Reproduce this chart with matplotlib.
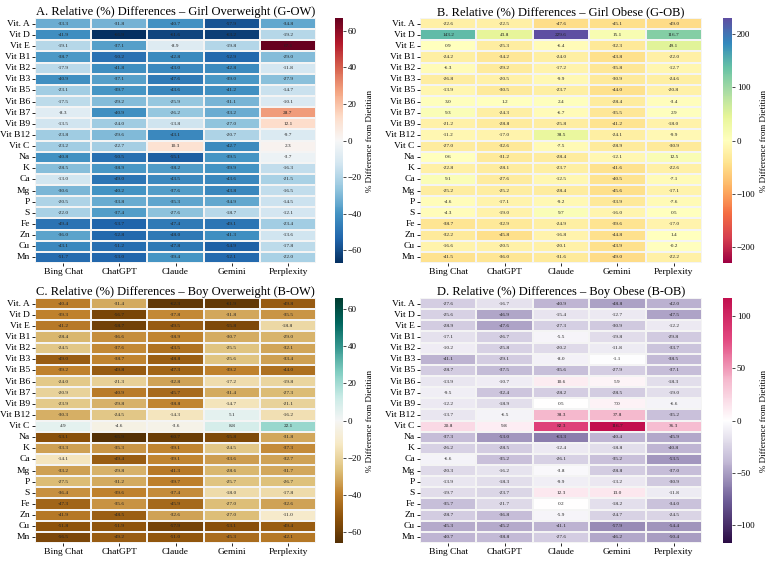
import numpy as np
import matplotlib
matplotlib.use('Agg')
import matplotlib.pyplot as plt
import seaborn as sns
from matplotlib.colors import LinearSegmentedColormap

nutrients = ['Vit. A', 'Vit D', 'Vit E', 'Vit B1', 'Vit B2', 'Vit B3', 'Vit B5', 'Vit B6',
             'Vit B7', 'Vit B9', 'Vit B12', 'Vit C', 'Na', 'K', 'Ca', 'Mg', 'P', 'S',
             'Fe', 'Zn', 'Cu', 'Mn']
models = ['Bing Chat', 'ChatGPT', 'Claude', 'Gemini', 'Perplexity']

# girl overweight
g_ow = [
    [-33.3, -31.8, -40.7, -57.9, -34.8],
    [-41.9, -66.9, -61.6, -63.2, -19.2],
    [-19.1, -37.1, -8.9, -19.8, 67.1],
    [-38.7, -50.2, -42.8, -52.9, -29.0],
    [-17.9, -41.8, -43.0, -42.8, -11.8],
    [-40.9, -37.1, -47.6, -39.0, -27.9],
    [-23.1, -39.7, -43.6, -41.2, -14.7],
    [-17.5, -29.2, -25.9, -31.1, -10.1],
    [-8.3, -40.9, -26.2, -33.2, 28.7],
    [-13.5, -24.0, -13.8, -27.0, 12.1],
    [-23.8, -29.6, -43.1, -20.7, -9.7],
    [-23.2, -22.7, 10.3, -42.7, 2.3],
    [-40.8, -50.5, -55.1, -39.5, -3.7],
    [-28.5, -38.9, -38.2, -39.9, -16.3],
    [-13.0, -49.0, -43.5, -43.6, -21.5],
    [-30.6, -40.2, -37.6, -43.8, -16.5],
    [-20.5, -33.8, -35.3, -34.9, -14.5],
    [-22.0, -37.4, -27.6, -18.7, -12.1],
    [-49.4, -53.7, -47.4, -49.1, -23.4],
    [-36.0, -52.8, -48.0, -41.3, -13.6],
    [-43.1, -51.2, -47.8, -54.9, -17.8],
    [-51.7, -53.0, -39.4, -52.1, -22.0],
]

# girl obese
g_ob = [
    [-22.6, -22.5, -47.6, -45.1, -49.0],
    [143.2, 43.8, 229.6, 15.1, 116.7],
    [0.9, -25.3, -6.4, -32.3, 49.1],
    [-24.2, -34.2, -24.0, -43.8, -22.0],
    [-6.3, -29.2, -17.2, -35.8, -12.7],
    [-26.8, -20.5, -9.9, -30.9, -24.6],
    [-13.9, -30.5, -23.7, -44.0, -20.8],
    [3.0, 1.2, 2.4, -28.4, -3.4],
    [9.3, -24.3, -6.7, -35.5, 2.9],
    [-21.2, -28.8, -25.8, -41.2, -18.0],
    [-11.2, -17.0, 38.5, -24.1, -9.9],
    [-27.0, -32.6, -7.5, -28.9, -30.9],
    [0.6, -31.2, -28.4, -12.1, 12.5],
    [-22.8, -28.1, -23.7, -41.6, -22.6],
    [9.1, -27.6, -12.5, -40.5, -7.1],
    [-25.2, -25.2, -28.4, -45.6, -17.1],
    [-4.6, -17.1, -9.2, -33.9, -7.6],
    [-4.3, -19.0, 9.7, -16.0, 0.5],
    [-38.7, -32.9, -24.9, -39.6, -17.0],
    [-32.2, -45.8, -16.8, -44.8, 1.4],
    [-16.6, -20.5, -20.1, -43.9, -0.2],
    [-41.5, -36.0, -31.6, -49.0, -22.2],
]

# boy overweight
b_ow = [
    [-40.4, -31.4, -62.3, -61.9, -49.8],
    [-39.3, -56.7, -37.8, -31.8, -35.5],
    [-41.2, -58.7, -49.5, -55.8, -18.8],
    [-28.4, -36.6, -38.9, -30.7, -29.0],
    [-24.5, -37.6, -43.5, -25.5, -32.1],
    [-49.0, -38.7, -48.8, -25.6, -33.4],
    [-39.2, -49.8, -47.3, -39.2, -44.0],
    [-24.0, -21.3, -32.8, -17.2, -19.8],
    [-20.9, -40.9, -45.7, -31.4, -27.3],
    [-23.9, -29.8, -38.8, -14.7, -21.1],
    [-30.3, -24.5, -14.3, 5.1, -16.2],
    [4.9, -4.6, -3.6, 8.8, 22.1],
    [-53.1, -65.9, -60.7, -55.8, -31.8],
    [-33.3, -35.3, -39.1, -24.5, -37.3],
    [-14.1, -49.4, -39.1, -33.6, -32.7],
    [-33.2, -29.8, -41.3, -28.6, -31.7],
    [-27.5, -31.2, -39.7, -25.7, -26.7],
    [-36.4, -39.6, -37.4, -18.0, -17.8],
    [-47.3, -35.6, -45.9, -27.0, -32.6],
    [-41.9, -48.5, -32.6, -27.0, -11.0],
    [-51.8, -51.9, -57.9, -53.1, -49.4],
    [-56.5, -49.2, -51.0, -45.3, -42.1],
]

# boy obese
b_ob = [
    [-27.6, -16.7, -40.9, -48.8, -42.0],
    [-25.6, -46.9, -15.4, -12.7, -47.5],
    [-28.9, -47.6, -27.3, -30.9, -12.2],
    [-17.1, -26.7, -5.5, -19.8, -29.8],
    [-10.2, -25.8, -20.2, -11.8, -33.7],
    [-41.1, -29.1, -8.0, -1.1, -38.5],
    [-28.7, -37.5, -35.6, -27.9, -37.1],
    [-13.9, -10.7, 10.6, 5.9, -18.3],
    [-9.5, -32.4, -28.2, -28.5, -19.0],
    [-12.2, -18.9, 0.5, 7.0, -6.6],
    [-13.7, -6.5, 38.3, 37.8, -35.2],
    [20.8, 9.8, 82.3, 116.7, 36.3],
    [-37.3, -53.0, -63.3, -40.4, -45.9],
    [-26.2, -28.5, -12.4, -18.8, -40.8],
    [-6.6, -35.2, -26.1, -35.2, -53.5],
    [-20.3, -16.2, -3.8, -28.8, -37.0],
    [-13.9, -18.3, -9.9, -13.2, -30.9],
    [-19.7, -23.7, 12.3, 13.0, -11.8],
    [-35.7, -21.7, 0.2, -18.2, -34.0],
    [-28.7, -36.8, -5.9, -24.7, -24.5],
    [-45.3, -45.2, -41.1, -57.9, -54.4],
    [-40.7, -38.8, -27.6, -46.2, -50.4],
]

purple_pink = LinearSegmentedColormap.from_list(
    'purple_pink', ['#2b0c45', '#6b5a95', '#c3bad6', '#ffffff', '#f5b8cd', '#e2477f', '#c2104f'])

W, H = 767, 563

def box(x0, y0, x1, y1):
    return [x0 / W, 1 - y1 / H, (x1 - x0) / W, (y1 - y0) / H]

panels = [
    (g_ow, 'RdBu_r', 'A. Relative (%) Differences – Girl Overweight (G-OW)', (35, 18, 316, 263), (335, 343)),
    (g_ob, 'Spectral', 'B. Relative (%) Differences – Girl Obese (G-OB)', (420, 18, 702, 263), (723, 732)),
    (b_ow, 'BrBG', 'C. Relative (%) Differences – Boy Overweight (B-OW)', (35, 298, 316, 543), (335, 343)),
    (b_ob, purple_pink, 'D. Relative (%) Differences – Boy Obese (B-OB)', (420, 298, 702, 543), (723, 732)),
]

fig = plt.figure(figsize=(7.67, 5.63), dpi=100)
serif = 'Liberation Serif'

for data, cmap, title, (x0, y0, x1, y1), (c0, c1) in panels:
    arr = np.array(data)
    lim = np.abs(arr).max()
    ax = fig.add_axes(box(x0, y0, x1, y1))
    cax = fig.add_axes(box(c0, y0, c1, y1))
    sns.heatmap(arr, ax=ax, cbar_ax=cax, cmap=cmap, vmin=-lim, vmax=lim,
                annot=True, fmt='.1f', annot_kws={'size': 3.8, 'color': '#222222', 'family': serif},
                linewidths=0.3, linecolor='#f4f4f4',
                xticklabels=models, yticklabels=nutrients)
    ax.set_yticklabels(nutrients, rotation=0, fontsize=6.8, family=serif)
    ax.set_xticklabels(models, rotation=0, fontsize=6.8, family=serif)
    ax.tick_params(length=2.5, width=0.6, pad=1.2)
    ax.set_title(title, fontsize=9, family=serif, pad=2)
    cax.tick_params(labelsize=6.5, length=2, width=0.5, pad=1.5)
    for t in cax.get_yticklabels():
        t.set_family(serif)
    cax.set_ylabel('% Difference from Dietitian', fontsize=6.5, family=serif, labelpad=3)

fig.savefig('out.png', dpi=100)
